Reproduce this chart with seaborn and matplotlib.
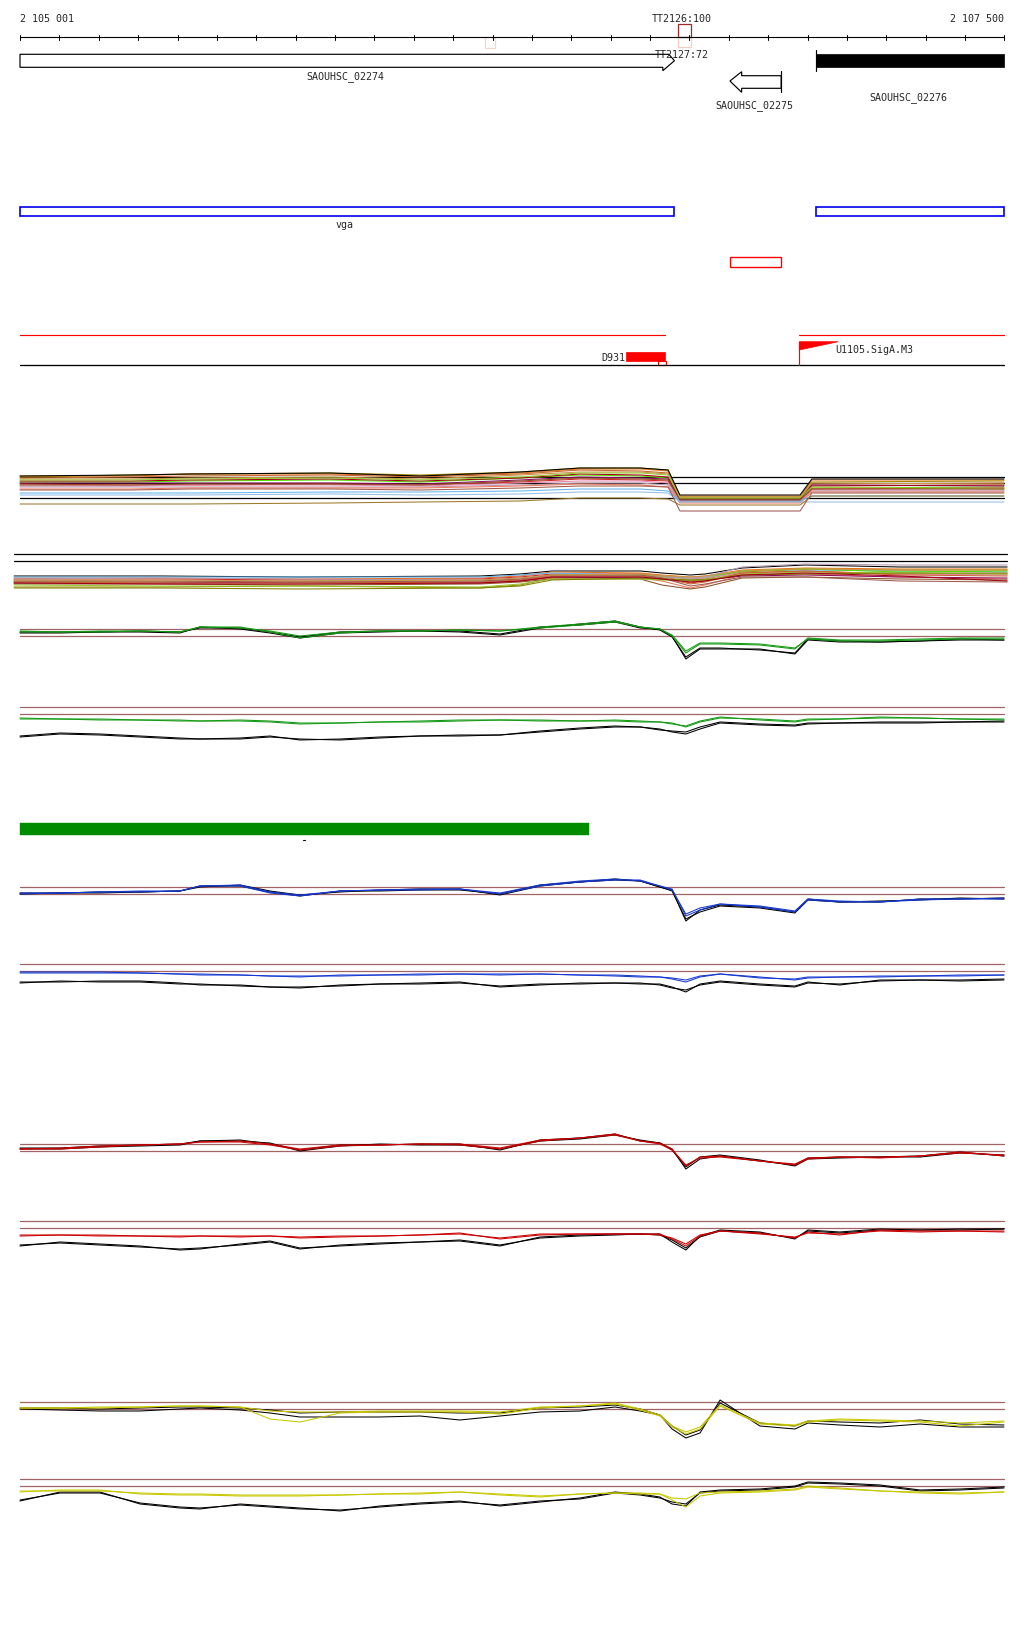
import matplotlib
matplotlib.use("Agg")
import matplotlib.pyplot as plt
import seaborn as sns
from matplotlib.patches import Rectangle, Polygon

# ---------------- data ----------------
START, END = 2105001, 2107500
ruler_labels = ["2 105 001", "2 107 500"]
tick_step = 100

gene_names = ["SAOUHSC_02274", "SAOUHSC_02275", "SAOUHSC_02276"]
gene_start = [2105001, 2106804, 2107023]
gene_end = [2106663, 2106934, 2107500]

term_labels = ["TT2126:100", "TT2127:72"]
term_pos = [2106671, 2106705]
term_weak = [2106182, 2106207]

vga_label = "vga"
vga_start = [2105001, 2107023]
vga_end = [2106663, 2107500]
red_box = [2106804, 2106934]
red_line_segments = [(2105001, 2106640), (2106980, 2107500)]
d931_label, d931_start, d931_end = "D931", 2106540, 2106640
u1105_label, u1105_pos = "U1105.SigA.M3", 2106980
green_bar = [2105001, 2106447]

# multi-sample track A (signal units)
pos_a = [2105001, 2105280, 2105433, 2105788, 2106017, 2106271, 2106423,
         2106576, 2106647, 2106677, 2106982, 2107012, 2107500]
a_ref_lines = [42, 36, 21]
a_colors = ["#e8731a", "#a08a00", "#c8642d", "#55dd00", "#8b0a64", "#d42828",
            "#e688b0", "#b898b0", "#f0785a", "#64b4f0", "#96bee6", "#9c7a28",
            "#a05a50", "#a00014", "#c89646", "#96c832", "#8c5028", "#000000"]
a_series = [
    [43, 43, 45, 45, 43, 46, 50, 50, 48, 23, 23, 39, 39],
    [42, 44, 45, 46, 44, 47, 51, 51, 49, 22, 22, 37, 38],
    [41, 42, 43, 44, 42, 45, 49, 48, 46, 21, 21, 35, 36],
    [37, 37, 38, 39, 37, 41, 44, 43, 41, 20, 20, 31, 32],
    [36, 36, 36, 36, 35, 39, 42, 41, 40, 19, 19, 34, 33],
    [35, 34, 34, 35, 34, 37, 40, 39, 38, 18, 18, 30, 31],
    [33, 33, 34, 34, 33, 36, 38, 38, 36, 18, 18, 29, 29],
    [32, 32, 32, 32, 32, 34, 36, 36, 34, 17, 17, 28, 28],
    [30, 30, 31, 31, 31, 33, 35, 34, 32, 16, 16, 27, 27],
    [26, 26, 26, 27, 27, 28, 30, 30, 28, 18, 18, 23, 23],
    [24, 24, 24, 25, 24, 25, 27, 27, 26, 17, 17, 17, 17],
    [15, 15, 15, 16, 17, 18, 21, 21, 20, 14, 14, 23, 23],
    [29, 29, 30, 30, 29, 31, 33, 33, 32, 8, 8, 26, 26],
    [38, 38, 39, 40, 38, 41, 45, 44, 42, 20, 20, 33, 34],
    [40, 40, 41, 42, 40, 44, 47, 47, 45, 22, 22, 36, 35],
    [39, 39, 40, 41, 39, 42, 46, 46, 44, 21, 21, 32, 30],
    [34, 34, 35, 35, 34, 38, 41, 40, 39, 19, 19, 30, 30],
    [43, 44, 45, 46, 43, 47, 51, 51, 49, 24, 24, 40, 40],
]

# multi-sample track B
pos_b = [2104986, 2105357, 2105712, 2106169, 2106271, 2106352, 2106576,
         2106631, 2106703, 2106741, 2106835, 2106995, 2107236, 2107508]
b_ref_lines = [45, 38]
b_colors = ["#000000", "#e8731a", "#d42828", "#64b4f0", "#a08a00", "#55dd00",
            "#e688b0", "#f0785a", "#b898b0", "#8b0a64", "#8c5028", "#96c832",
            "#c8642d", "#a05a50", "#808000", "#a00014", "#c89646"]
b_series = [
    [23, 23, 22, 23, 25, 28, 28, 26, 24, 25, 31, 34, 32, 32],
    [21, 21, 20, 21, 23, 27, 26, 24, 22, 23, 29, 31, 30, 30],
    [20, 20, 19, 20, 22, 25, 25, 23, 16, 18, 26, 28, 25, 25],
    [22, 22, 22, 22, 24, 26, 24, 23, 21, 22, 28, 29, 28, 27],
    [12, 12, 13, 11, 14, 21, 22, 20, 19, 20, 27, 30, 29, 29],
    [18, 17, 18, 18, 20, 24, 24, 22, 20, 21, 28, 30, 27, 28],
    [19, 18, 18, 17, 20, 22, 22, 20, 20, 21, 26, 27, 25, 24],
    [17, 17, 16, 16, 18, 21, 21, 18, 11, 14, 24, 25, 22, 20],
    [20, 21, 20, 19, 21, 23, 23, 22, 21, 22, 32, 35, 34, 34],
    [16, 16, 17, 16, 18, 22, 21, 20, 18, 19, 23, 24, 22, 21],
    [15, 15, 14, 15, 17, 20, 20, 14, 10, 12, 21, 22, 20, 19],
    [14, 13, 13, 12, 15, 20, 20, 19, 18, 19, 25, 27, 26, 25],
    [17, 16, 16, 17, 19, 23, 23, 21, 15, 17, 26, 28, 24, 23],
    [18, 18, 17, 18, 20, 24, 24, 21, 13, 15, 22, 22, 18, 17],
    [11, 11, 10, 11, 13, 19, 21, 20, 19, 19, 24, 25, 26, 26],
    [16, 15, 15, 16, 18, 22, 22, 20, 17, 18, 24, 26, 23, 18],
    [19, 19, 18, 19, 21, 24, 25, 23, 22, 23, 28, 30, 29, 29],
]

# paired condition tracks
pos_t = [2105001, 2105103, 2105204, 2105306, 2105407, 2105458, 2105560, 2105636,
         2105712, 2105814, 2105915, 2106017, 2106118, 2106220, 2106322, 2106423,
         2106512, 2106576, 2106626, 2106657, 2106692, 2106728, 2106779, 2106880,
         2106969, 2107002, 2107083, 2107185, 2107287, 2107388, 2107500]
threshold = [0, 7]

c_top_col1 = [4, 4, 5, 5, 4, 9, 8, 5, 0, 4, 5, 5, 6, 5, 9, 12, 15, 9, 7, 1, -15, -7, -7, -8, -12, -3, -5, -5, -4, -3, -3]
c_top_col2 = [5, 4, 4, 5, 4, 9, 9, 4, -2, 3, 5, 5, 6, 5, 8, 11, 14, 9, 7, 0, -17, -8, -8, -9, -13, -2, -4, -4, -3, -2, -2]
c_top_blk1 = [3, 3, 4, 5, 4, 8, 8, 4, -1, 4, 5, 5, 5, 2, 9, 11, 14, 8, 7, 0, -23, -13, -13, -13, -18, -4, -6, -6, -5, -4, -4]
c_top_blk2 = [4, 4, 4, 4, 3, 9, 7, 3, -2, 3, 4, 5, 4, 1, 8, 12, 15, 9, 6, -1, -21, -12, -12, -14, -17, -3, -5, -6, -5, -3, -4]
c_bot_col1 = [-5, -5, -6, -6, -7, -7, -7, -8, -10, -9, -8, -7, -6, -6, -7, -7, -7, -8, -8, -10, -12, -7, -3, -6, -8, -6, -5, -3, -4, -5, -6]
c_bot_col2 = [-4, -5, -5, -6, -6, -7, -6, -7, -9, -9, -8, -8, -7, -6, -6, -7, -6, -7, -8, -9, -13, -8, -4, -5, -7, -5, -5, -4, -4, -5, -5]
c_bot_blk1 = [-22, -19, -20, -22, -24, -25, -24, -22, -26, -25, -23, -22, -22, -21, -17, -14, -12, -13, -16, -17, -18, -13, -8, -10, -11, -9, -9, -8, -8, -8, -7]
c_bot_blk2 = [-23, -20, -21, -23, -25, -25, -25, -23, -25, -26, -24, -22, -21, -21, -18, -15, -13, -13, -15, -18, -20, -15, -9, -11, -12, -10, -9, -9, -9, -8, -8]

d_top_col1 = [0, 1, 2, 2, 3, 8, 9, 2, -1, 3, 4, 5, 5, 1, 9, 13, 15, 13, 8, 5, -22, -16, -10, -13, -18, -6, -8, -8, -5, -5, -5]
d_top_col2 = [1, 1, 2, 3, 3, 8, 8, 1, -2, 3, 4, 4, 5, 0, 8, 12, 14, 14, 8, 4, -20, -14, -10, -12, -17, -5, -7, -8, -6, -5, -4]
d_top_blk1 = [0, 1, 1, 2, 3, 7, 9, 3, -1, 2, 4, 5, 5, -1, 8, 12, 15, 13, 7, 4, -27, -16, -11, -13, -18, -5, -8, -7, -6, -4, -5]
d_top_blk2 = [1, 1, 2, 2, 3, 8, 8, 2, -2, 3, 3, 4, 4, 0, 9, 12, 14, 13, 7, 3, -25, -18, -12, -14, -19, -6, -8, -8, -5, -5, -4]
d_bot_col1 = [-1, -1, -1, -2, -3, -3, -4, -5, -6, -4, -4, -3, -3, -4, -3, -4, -5, -6, -6, -8, -11, -6, -3, -7, -8, -6, -6, -6, -5, -5, -4]
d_bot_col2 = [-2, -2, -2, -2, -3, -4, -4, -5, -5, -5, -4, -4, -3, -3, -3, -4, -4, -5, -6, -7, -9, -5, -3, -6, -9, -7, -6, -5, -5, -4, -4]
d_bot_blk1 = [-11, -11, -10, -10, -12, -14, -14, -16, -16, -15, -13, -12, -11, -16, -14, -12, -12, -13, -13, -16, -21, -13, -10, -13, -15, -11, -14, -9, -9, -9, -8]
d_bot_blk2 = [-12, -10, -11, -11, -13, -13, -15, -16, -17, -14, -13, -13, -12, -15, -13, -13, -12, -12, -14, -17, -19, -14, -11, -14, -16, -12, -13, -10, -9, -10, -9]

e_top_col1 = [2, 3, 5, 6, 7, 9, 10, 7, 2, 6, 6, 7, 7, 3, 11, 13, 17, 10, 8, 2, -15, -6, -5, -10, -14, -8, -6, -6, -5, -1, -5]
e_top_col2 = [2, 2, 4, 6, 7, 9, 9, 6, 1, 5, 6, 7, 6, 2, 10, 13, 16, 10, 7, 1, -14, -7, -6, -10, -13, -7, -6, -7, -5, -2, -4]
e_top_blk1 = [3, 3, 5, 6, 7, 10, 11, 7, 1, 6, 6, 7, 7, 1, 11, 13, 17, 10, 8, 2, -18, -8, -5, -10, -14, -7, -6, -6, -5, -1, -5]
e_top_blk2 = [2, 2, 4, 5, 6, 10, 10, 8, 0, 5, 7, 6, 6, 2, 10, 12, 16, 11, 8, 1, -16, -6, -4, -9, -15, -8, -7, -6, -6, -2, -4]
e_bot_col1 = [-7, -7, -8, -8, -8, -8, -8, -8, -9, -8, -8, -7, -5, -11, -7, -6, -6, -6, -6, -11, -18, -8, -3, -5, -10, -4, -7, -2, -3, -3, -3]
e_bot_col2 = [-8, -7, -7, -8, -9, -8, -9, -8, -10, -9, -8, -7, -6, -10, -6, -6, -6, -6, -7, -10, -16, -7, -3, -6, -9, -5, -6, -3, -4, -3, -4]
e_bot_blk1 = [-18, -14, -16, -18, -22, -21, -16, -13, -20, -18, -16, -14, -13, -18, -9, -7, -6, -6, -6, -14, -22, -8, -2, -4, -11, -2, -4, -1, -2, -1, -1]
e_bot_blk2 = [-17, -15, -17, -19, -21, -20, -17, -14, -21, -17, -15, -14, -12, -17, -10, -8, -7, -6, -7, -12, -20, -9, -3, -5, -10, -3, -5, -2, -2, -2, -1]

f_top_col1 = [1, 1, 1, 2, 3, 3, 2, -10, -13, -4, -3, -3, -3, -5, 1, 3, 5, -1, -7, -18, -25, -20, 3, -15, -17, -13, -11, -12, -13, -17, -13]
f_top_col2 = [1, 1, 2, 2, 3, 3, 2, -2, -3, -3, -2, -2, -2, -3, 2, 3, 6, 0, -6, -17, -23, -18, 4, -14, -16, -12, -10, -11, -12, -14, -12]
f_top_blk1 = [0, -1, -2, -2, 0, 1, -1, -4, -8, -8, -8, -7, -11, -7, -3, -2, 2, -2, -6, -20, -29, -24, 9, -17, -20, -14, -16, -18, -15, -18, -18]
f_top_blk2 = [1, 1, 0, 1, 2, 2, 1, -1, -4, -3, -3, -3, -4, -4, 1, 2, 4, 0, -6, -17, -26, -21, 6, -14, -17, -12, -13, -14, -11, -15, -16]
f_bot_col1 = [-6, -4, -4, -8, -9, -9, -10, -10, -10, -9, -8, -8, -6, -9, -11, -8, -7, -8, -8, -12, -13, -7, -6, -5, -3, 0, -2, -5, -7, -8, -6]
f_bot_col2 = [-5, -5, -5, -7, -8, -8, -9, -9, -9, -9, -8, -7, -6, -8, -10, -8, -7, -7, -8, -14, -21, -10, -7, -6, -4, -1, -3, -5, -6, -7, -6]
f_bot_blk1 = [-15, -6, -6, -18, -22, -23, -18, -20, -22, -25, -20, -17, -15, -20, -16, -12, -6, -8, -11, -18, -20, -6, -4, -3, 0, 4, 3, 1, -4, -3, -1]
f_bot_blk2 = [-14, -7, -7, -17, -21, -22, -19, -21, -23, -24, -21, -18, -16, -19, -15, -13, -7, -9, -12, -16, -18, -7, -5, -4, -1, 3, 2, 0, -5, -4, -2]

# ---------------- layout / style ----------------
sns.set_theme(style="white")
plt.rcParams['font.family'] = ['DejaVu Sans Mono', 'DejaVu Sans']

W, H = 1024, 1640
BPP = (END - START) / 984.0
XLIM = (START - 20 * BPP, START + 1004 * BPP)
FS = 7.2
BROWN = "#a06464"
LW = 0.75


def bp(px):
    return START + (px - 20) * BPP


fig = plt.figure(figsize=(W / 100, H / 100), dpi=100)
fig.patch.set_facecolor("white")

ax0 = fig.add_axes([0, 0, 1, 1])
ax0.set_xlim(XLIM)
ax0.set_ylim(H, 0)
ax0.set_axis_off()

# ruler
ax0.plot([START, END], [38.3, 38.3], color="black", lw=0.8)
for t in range(START, END + 2, tick_step):
    ax0.plot([t, t], [35.5, 41.0], color="black", lw=0.75)
ax0.text(START, 19, ruler_labels[0], fontsize=FS, ha="left", va="center")
ax0.text(END, 19, ruler_labels[1], fontsize=FS, ha="right", va="center")

# terminators
ax0.text(bp(682), 18.5, term_labels[0], fontsize=FS, ha="center", va="center")
ax0.add_patch(Rectangle((term_pos[0], 25.3), term_pos[1] - term_pos[0], 13,
                        fill=False, ec="#a02828", lw=0.9))
ax0.add_patch(Rectangle((term_pos[0], 38.3), term_pos[1] - term_pos[0], 10,
                        fill=False, ec="#f5cfc0", lw=0.9))
ax0.add_patch(Rectangle((term_weak[0], 38.3), term_weak[1] - term_weak[0], 11,
                        fill=False, ec="#f5d5c8", lw=0.9))
ax0.text(bp(682), 55, term_labels[1], fontsize=FS, ha="center", va="center", zorder=1)

# genes
g0s, g0e = gene_start[0], gene_end[0]
ax0.add_patch(Polygon([(g0s, 55.3), (g0e - 5.6 * BPP, 55.3), (g0e, 61.7),
                       (g0e - 11.6 * BPP, 71.7), (g0e - 11.6 * BPP, 68.3), (g0s, 68.3)],
                      closed=True, fill=False, ec="black", lw=0.85, zorder=3))
ax0.text(bp(345), 76.5, gene_names[0], fontsize=FS, ha="center", va="center")

g1s, g1e = gene_start[1], gene_end[1]
ax0.add_patch(Polygon([(g1s, 82), (g1s + 11.7 * BPP, 72.7), (g1s + 11.7 * BPP, 76.7),
                       (g1e, 76.7), (g1e, 89.3), (g1s + 11.7 * BPP, 89.3),
                       (g1s + 11.7 * BPP, 93.3)],
                      closed=True, fill=False, ec="black", lw=0.85))
ax0.plot([g1e, g1e], [72, 93.3], color="black", lw=0.85)
ax0.text(bp(754.5), 106, gene_names[1], fontsize=FS, ha="center", va="center")

g2s, g2e = gene_start[2], gene_end[2]
ax0.add_patch(Rectangle((g2s, 55.3), g2e - g2s, 13, fc="black", ec="black", lw=0.5))
ax0.plot([g2s, g2s], [50.7, 71.7], color="black", lw=0.85)
ax0.text(bp(908), 97.3, gene_names[2], fontsize=FS, ha="center", va="center")

# vga boxes
for s, e in zip(vga_start, vga_end):
    ax0.add_patch(Rectangle((s, 207.5), e - s, 9.6, fill=False, ec="#0000ee", lw=1.2))
ax0.text(bp(345), 224.5, vga_label, fontsize=FS, ha="center", va="center")

# small red box
ax0.add_patch(Rectangle((red_box[0], 258.3), red_box[1] - red_box[0], 10,
                        fill=False, ec="#ff0000", lw=1.0))

# red line track & black baseline
for s, e in red_line_segments:
    ax0.plot([s, e], [336, 336], color="#ff0000", lw=0.85)
ax0.plot([START, END], [366, 366], color="black", lw=0.95)
ax0.add_patch(Rectangle((d931_start, 352.7), d931_end - d931_start, 9.6,
                        fc="#ff0000", ec="#ff0000", lw=0.5))
ax0.add_patch(Rectangle((bp(658), 362.3), 8 * BPP, 4, fc="white", ec="#ff0000", lw=0.8))
ax0.text(d931_start - 1 * BPP, 357.7, d931_label, fontsize=FS, ha="right", va="center")
ax0.plot([u1105_pos, u1105_pos], [342.7, 366], color="#ff0000", lw=0.85)
ax0.add_patch(Polygon([(u1105_pos, 342.7), (u1105_pos + 39 * BPP, 342.7), (u1105_pos, 351)],
                      closed=True, fc="#ff0000", ec="#ff0000", lw=0.5))
ax0.text(u1105_pos + 36.5 * BPP, 350.3, u1105_label, fontsize=FS, ha="left", va="center")

# green bar
ax0.add_patch(Rectangle((green_bar[0], 824.3), green_bar[1] - green_bar[0], 11.3,
                        fc="#008c00", ec="#008c00", lw=0.3))
ax0.plot([bp(302.5), bp(305)], [841, 841], color="black", lw=0.8)


def track_axes(top_px, bot_px, ref_px):
    ax = fig.add_axes([0, 1 - bot_px / H, 1, (bot_px - top_px) / H])
    ax.set_xlim(XLIM)
    ax.set_ylim(ref_px - bot_px, ref_px - top_px)
    ax.set_axis_off()
    ax.patch.set_alpha(0)
    return ax


# track A
axA = track_axes(455, 525, 520)
for v in a_ref_lines:
    axA.plot([START, END], [v, v], color="black", lw=0.9, zorder=1)
for col, ser in zip(a_colors, a_series):
    sns.lineplot(x=pos_a, y=ser, ax=axA, color=col, lw=LW, estimator=None,
                 sort=False, legend=False, zorder=2)

# track B
axB = track_axes(545, 600, 600)
for v in b_ref_lines:
    axB.plot([pos_b[0], pos_b[-1]], [v, v], color="black", lw=0.9)
for col, ser in zip(b_colors, b_series):
    sns.lineplot(x=pos_b, y=ser, ax=axB, color=col, lw=LW, estimator=None,
                 sort=False, legend=False)

# paired tracks
tracks = [
    (605, 675, 637, "#139a13", [c_top_col1, c_top_col2], [c_top_blk1, c_top_blk2]),
    (695, 750, 715, "#139a13", [c_bot_col1, c_bot_col2], [c_bot_blk1, c_bot_blk2]),
    (865, 935, 895, "#1538d0", [d_top_col1, d_top_col2], [d_top_blk1, d_top_blk2]),
    (955, 1005, 972, "#1538d0", [d_bot_col1, d_bot_col2], [d_bot_blk1, d_bot_blk2]),
    (1120, 1185, 1152, "#cc0000", [e_top_col1, e_top_col2], [e_top_blk1, e_top_blk2]),
    (1210, 1265, 1229, "#cc0000", [e_bot_col1, e_bot_col2], [e_bot_blk1, e_bot_blk2]),
    (1385, 1450, 1410, "#c8c800", [f_top_col1, f_top_col2], [f_top_blk1, f_top_blk2]),
    (1470, 1525, 1487, "#c8c800", [f_bot_col1, f_bot_col2], [f_bot_blk1, f_bot_blk2]),
]
for top, bot, ref, col, cols, blks in tracks:
    ax = track_axes(top, bot, ref)
    for v in threshold:
        ax.plot([START, END], [v, v], color=BROWN, lw=0.9, zorder=1)
    for ser in blks:
        sns.lineplot(x=pos_t, y=ser, ax=ax, color="black", lw=LW, estimator=None,
                     sort=False, legend=False, zorder=2)
    for ser in cols:
        sns.lineplot(x=pos_t, y=ser, ax=ax, color=col, lw=LW, estimator=None,
                     sort=False, legend=False, zorder=3)

fig.savefig("out.png", dpi=100, facecolor="white")
